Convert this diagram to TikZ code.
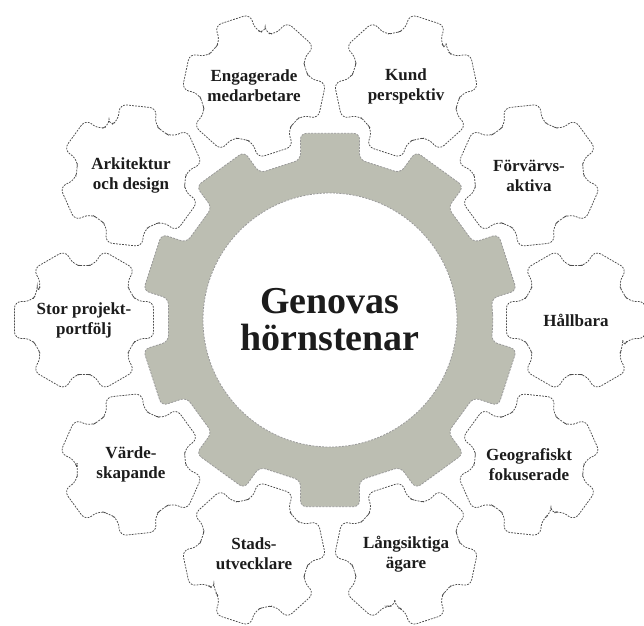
\documentclass[tikz,border=0pt]{standalone}
\usepackage{fontspec}
\setmainfont{Liberation Serif}
\definecolor{gearfill}{RGB}{188,190,178}
\definecolor{ink}{RGB}{28,28,28}

\begin{document}
\begin{tikzpicture}[x=1pt, y=1pt,
  smallgear/.style={draw=black!70, line width=0.75pt, dash pattern=on 1.8pt off 1.2pt, fill=white, rounded corners=7pt},
  biggear/.style={draw=black!40, line width=0.8pt, dash pattern=on 2pt off 1.3pt, fill=gearfill, rounded corners=6pt},
  cogtext/.style={align=center, text=ink, font=\bfseries\fontsize{17}{20}\selectfont},
  hubtext/.style={align=center, text=ink, font=\bfseries\fontsize{38}{37}\selectfont}]
\useasboundingbox (-330,-305) rectangle (314,320);
\clip (-330,-305) rectangle (314,320);

% Kugghjulen runt om
\foreach \a/\txt [count=\i from 0] in {0/Hållbara, 36/Förvärvs-\\aktiva, 72/Kund\\perspektiv,
    108/Engagerade\\medarbetare, 144/Arkitektur\\och design, 180/Stor projekt-\\portfölj,
    216/Värde-\\skapande, 252/Stads-\\utvecklare, 288/Långsiktiga\\ägare, 324/Geografiskt\\fokuserade}
{
  \begin{scope}[shift={(\a:246)}, rotate=\a]
    \draw[smallgear] (330:54) \foreach \t in {0,60,...,300}
      { -- (\t-19.3:56) -- (\t-14.9:72) -- (\t+14.9:72) -- (\t+19.3:56) -- (\t+30:54) } -- cycle;
  \end{scope}
  \node[cogtext] (cog\i) at (\a:246) {\txt};
}

% Stora kugghjulet i mitten
\draw[biggear] (0:163) \foreach \t in {18,54,...,342}
  { -- (\t-10.4:163) -- (\t-9:189) -- (\t+9:189) -- (\t+10.4:163) } -- cycle;
\draw[draw=black!40, line width=0.8pt, dash pattern=on 2pt off 1.3pt, fill=white] (0,0) circle (127);
\node[hubtext] (hub) at (0,0) {Genovas\\hörnstenar};
\end{tikzpicture}
\end{document}
